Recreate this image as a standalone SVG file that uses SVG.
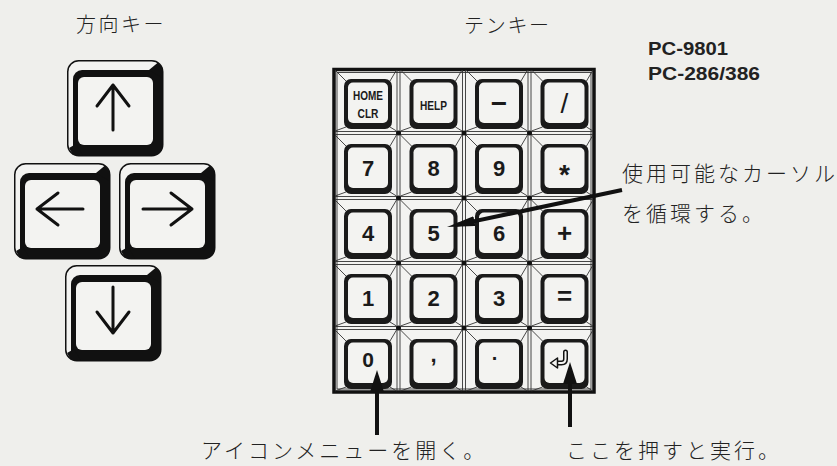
<svg xmlns="http://www.w3.org/2000/svg" xmlns:xlink="http://www.w3.org/1999/xlink" width="837" height="466" viewBox="0 0 837 466">
<style>
.jp{font-family:"Noto Sans CJK JP","Noto Sans CJK SC",sans-serif;font-weight:300;fill:#222;font-size:21px}
.pc{font-family:"Liberation Sans",Arial,sans-serif;font-weight:bold;font-size:17.5px;fill:#222}
.k{font-family:"Liberation Sans",Arial,sans-serif;font-weight:bold;font-size:22px;fill:#1a1a1a;text-anchor:middle}
.ks{font-family:"Liberation Sans Narrow","Liberation Sans",Arial,sans-serif;font-weight:bold;font-size:12px;fill:#1a1a1a;text-anchor:middle}
.arr{fill:none;stroke:#111;stroke-width:3;stroke-linecap:round;stroke-linejoin:round}
.thin{stroke:#333;stroke-width:0.9;fill:none}
.conn{stroke:#111;stroke-width:4;fill:none}
</style>
<defs>
<g id="akey">
<rect x="0.75" y="0.75" width="95" height="95" rx="11" fill="#f3f3f1" stroke="#111" stroke-width="1.5"/>
<rect x="6" y="10" width="89.5" height="85.5" rx="9" fill="#111"/>
<polygon points="82,10 91,2.5 95.5,8 95.5,18" fill="#111"/>
<polygon points="2,88 9,84 16,95.5 6,95" fill="#111"/>
<rect x="11" y="17" width="75" height="68" rx="6" fill="#f3f3f1"/>
</g>
<g id="cell">
<line class="thin" x1="2" y1="2" x2="13" y2="13"/>
<line class="thin" x1="63.5" y1="2" x2="57" y2="13"/>
<line class="thin" x1="2" y1="63" x2="13" y2="59"/>
<line class="thin" x1="63.5" y1="63" x2="57" y2="59"/>
<rect x="11" y="11" width="48" height="50" rx="7" fill="#1a1a1a"/>
<rect x="15" y="14.5" width="40" height="40.5" rx="5" fill="#f3f3f1"/>
</g>
<marker id="headV" markerUnits="userSpaceOnUse" viewBox="0 0 22 14" refX="12" refY="7" markerWidth="22" markerHeight="14" orient="auto">
<path d="M0,0 L22,7 L0,14 z" fill="#111"/>
</marker>
<marker id="headD" markerUnits="userSpaceOnUse" viewBox="0 0 28 10" refX="18" refY="5" markerWidth="28" markerHeight="10" orient="auto">
<path d="M0,0 L28,5 L0,10 z" fill="#111"/>
</marker>
</defs>
<rect x="0" y="0" width="837" height="466" fill="#efefec"/>

<text class="jp" x="76" y="32" letter-spacing="2.5" style="font-size:20px">方向キー</text>
<text class="jp" x="464" y="33" style="font-size:20px" letter-spacing="1.7">テンキー</text>
<text class="pc" x="648" y="55" textLength="80" lengthAdjust="spacingAndGlyphs">PC-9801</text>
<text class="pc" x="648" y="80" textLength="112" lengthAdjust="spacingAndGlyphs">PC-286/386</text>

<g id="key-up" transform="translate(67,60)">
<use xlink:href="#akey" href="#akey"/>
<path class="arr" d="M46,70 L46,25 M30,46 L46,25 L62,46"/>
</g>
<g id="key-left" transform="translate(14,163)">
<use xlink:href="#akey" href="#akey"/>
<path class="arr" d="M69,46 L23,46 M44,30 L23,46 L44,62"/>
</g>
<g id="key-right" transform="translate(119,163)">
<use xlink:href="#akey" href="#akey"/>
<path class="arr" d="M24,46 L73,46 M52,30 L73,46 L52,62"/>
</g>
<g id="key-down" transform="translate(65,265)">
<use xlink:href="#akey" href="#akey"/>
<path class="arr" d="M48,22 L48,68 M32,47 L48,68 L64,47"/>
</g>

<g id="tenkey">
<rect x="334" y="69.5" width="260" height="322.5" fill="#f3f3f1" stroke="#111" stroke-width="3.5"/>
<rect x="337" y="72.5" width="254" height="316.5" class="thin"/>
<g class="thin">
<line x1="397" y1="70" x2="397" y2="391"/><line x1="400" y1="70" x2="400" y2="391"/>
<line x1="462.5" y1="70" x2="462.5" y2="391"/><line x1="465.5" y1="70" x2="465.5" y2="391"/>
<line x1="528" y1="70" x2="528" y2="391"/><line x1="531" y1="70" x2="531" y2="391"/>
<line x1="335" y1="131.5" x2="593" y2="131.5"/><line x1="335" y1="134.5" x2="593" y2="134.5"/>
<line x1="335" y1="196.5" x2="593" y2="196.5"/><line x1="335" y1="199.5" x2="593" y2="199.5"/>
<line x1="335" y1="261.5" x2="593" y2="261.5"/><line x1="335" y1="264.5" x2="593" y2="264.5"/>
<line x1="335" y1="326.5" x2="593" y2="326.5"/><line x1="335" y1="329.5" x2="593" y2="329.5"/>
</g>
<g fill="#111">
<circle cx="398.5" cy="133" r="2.5"/><circle cx="464" cy="133" r="2.5"/><circle cx="529.5" cy="133" r="2.5"/>
<circle cx="398.5" cy="198" r="2.5"/><circle cx="464" cy="198" r="2.5"/><circle cx="529.5" cy="198" r="2.5"/>
<circle cx="398.5" cy="263" r="2.5"/><circle cx="464" cy="263" r="2.5"/><circle cx="529.5" cy="263" r="2.5"/>
<circle cx="398.5" cy="328" r="2.5"/><circle cx="464" cy="328" r="2.5"/><circle cx="529.5" cy="328" r="2.5"/>
</g>
</g>

<g id="key-home" transform="translate(333,68)"><use xlink:href="#cell" href="#cell"/><text class="ks" x="35" y="32" textLength="30" lengthAdjust="spacingAndGlyphs">HOME</text><text class="ks" x="35" y="50" textLength="21" lengthAdjust="spacingAndGlyphs">CLR</text></g>
<g id="key-help" transform="translate(398.5,68)"><use xlink:href="#cell" href="#cell"/><text class="ks" x="35" y="42" textLength="27" lengthAdjust="spacingAndGlyphs">HELP</text></g>
<g id="key-minus" transform="translate(464,68)"><use xlink:href="#cell" href="#cell"/><text class="k" x="35" y="45" style="font-size:28px">−</text></g>
<g id="key-slash" transform="translate(529.5,68)"><use xlink:href="#cell" href="#cell"/><text class="k" x="35" y="45" style="font-size:28px;font-weight:normal">/</text></g>

<g id="key-7" transform="translate(333,133)"><use xlink:href="#cell" href="#cell"/><text class="k" x="35" y="43">7</text></g>
<g id="key-8" transform="translate(398.5,133)"><use xlink:href="#cell" href="#cell"/><text class="k" x="35" y="43">8</text></g>
<g id="key-9" transform="translate(464,133)"><use xlink:href="#cell" href="#cell"/><text class="k" x="35" y="43">9</text></g>
<g id="key-mul" transform="translate(529.5,133)"><use xlink:href="#cell" href="#cell"/><text class="k" x="35" y="51" style="font-size:28px">*</text></g>

<g id="key-4" transform="translate(333,198)"><use xlink:href="#cell" href="#cell"/><text class="k" x="35" y="43">4</text></g>
<g id="key-5" transform="translate(398.5,198)"><use xlink:href="#cell" href="#cell"/><text class="k" x="35" y="43">5</text></g>
<g id="key-6" transform="translate(464,198)"><use xlink:href="#cell" href="#cell"/><text class="k" x="35" y="43">6</text></g>
<g id="key-plus" transform="translate(529.5,198)"><use xlink:href="#cell" href="#cell"/><text class="k" x="35" y="44" style="font-size:26px">+</text></g>

<g id="key-1" transform="translate(333,263)"><use xlink:href="#cell" href="#cell"/><text class="k" x="35" y="43">1</text></g>
<g id="key-2" transform="translate(398.5,263)"><use xlink:href="#cell" href="#cell"/><text class="k" x="35" y="43">2</text></g>
<g id="key-3" transform="translate(464,263)"><use xlink:href="#cell" href="#cell"/><text class="k" x="35" y="43">3</text></g>
<g id="key-eq" transform="translate(529.5,263)"><use xlink:href="#cell" href="#cell"/><text class="k" x="35" y="42" style="font-size:26px">=</text></g>

<g id="key-0" transform="translate(333,328)"><use xlink:href="#cell" href="#cell"/><text class="k" x="35" y="39" style="font-size:21px">0</text></g>
<g id="key-comma" transform="translate(398.5,328)"><use xlink:href="#cell" href="#cell"/><text class="k" x="35" y="34">,</text></g>
<g id="key-dot" transform="translate(464,328)"><use xlink:href="#cell" href="#cell"/><text class="k" x="31" y="37" style="font-size:20px">·</text></g>
<g id="key-enter" transform="translate(529.5,328)"><use xlink:href="#cell" href="#cell"/>
<path d="M36,24 L36,31 Q36,35 32,35 L27,35" fill="none" stroke="#111" stroke-width="5" stroke-linecap="round"/>
<path d="M36,24 L36,31 Q36,35 32,35 L27,35" fill="none" stroke="#f3f3f1" stroke-width="2" stroke-linecap="round"/>
<polygon points="21,35 28,30 28,40" fill="#f3f3f1" stroke="#111" stroke-width="1.5" stroke-linejoin="round"/>
</g>

<g id="connectors">
<line class="conn" x1="622" y1="190" x2="456.8" y2="224.9" marker-end="url(#headD)"/>
<line class="conn" x1="377" y1="435" x2="377" y2="380" marker-end="url(#headV)"/>
<line class="conn" x1="570" y1="427" x2="570" y2="372" marker-end="url(#headV)"/>
</g>

<text class="jp" x="622" y="181" letter-spacing="3">使用可能なカーソル</text>
<text class="jp" x="622" y="221" letter-spacing="3">を循環する。</text>
<text class="jp" x="201" y="458" letter-spacing="3">アイコンメニューを開く。</text>
<text class="jp" x="566" y="458" letter-spacing="3">ここを押すと実行。</text>
</svg>
